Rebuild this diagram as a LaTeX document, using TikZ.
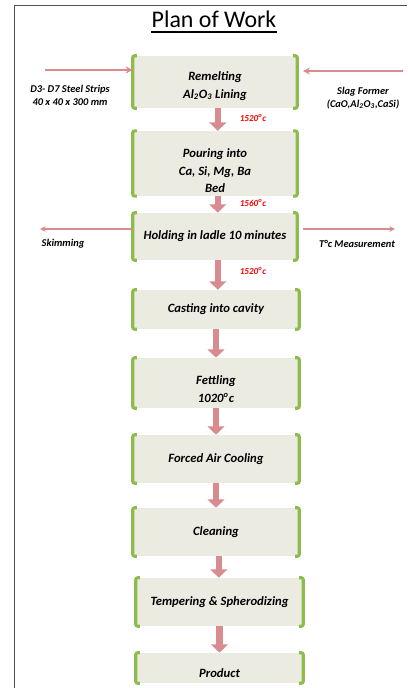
\documentclass[tikz,border=0pt]{standalone}
\usepackage{fontspec}
\setmainfont{Carlito}
\newfontfamily\boldslant{Carlito Bold Italic}
\usepackage{tikz}
\usetikzlibrary{arrows.meta, positioning}

\definecolor{boxfill}{RGB}{236,235,225}
\definecolor{bracketgreen}{RGB}{141,187,76}
\definecolor{flowpink}{RGB}{217,140,143}
\definecolor{framegray}{RGB}{80,80,80}

\begin{document}
\begin{tikzpicture}[
    stepbox/.style={rectangle, fill=boxfill, minimum width=4.1cm, inner sep=2pt, align=center, font=\boldslant\fontsize{9}{12.6}\selectfont},
    sidelabel/.style={align=center, inner sep=1pt, font=\boldslant\fontsize{7.4}{9.4}\selectfont},
    templabel/.style={text=red, inner sep=1pt, font=\boldslant\fontsize{6.5}{8}\selectfont},
    flow/.style={draw=flowpink, line width=4.6pt, -{Triangle[width=12pt, length=6pt]}},
    feed/.style={draw=flowpink, line width=1.6pt, -{Stealth[width=5pt, length=5pt]}},
    drain/.style={draw=flowpink, line width=1.1pt, -{Stealth[width=4pt, length=4pt]}},
    bracket/.style={draw=bracketgreen, line width=2.2pt, rounded corners=1.5pt}
]
\useasboundingbox (0,0) rectangle (10.175,17.2);
\draw[framegray, line width=1pt] (0.3625,0) -- (0.3625,17.0625) -- (10.175,17.0625);

% title
\node[font=\fontsize{17}{20}\selectfont, anchor=base, inner sep=0pt] (title) at (5.35,16.51) {Plan of Work};
\draw[line width=1pt] ([yshift=-3pt]title.base west) -- ([yshift=-3pt]title.base east);

% process steps
\node[stepbox, minimum height=1.3cm, text height=25pt] (remelt) at (5.375,15.15) {Remelting\\Al\textsubscript{2}O\textsubscript{3} Lining};
\node[stepbox, minimum height=1.575cm, text height=42pt] (pour) at (5.375,13.1125) {Pouring into\\Ca, Si, Mg, Ba\\Bed};
\node[stepbox, minimum height=1.175cm] (hold) at (5.375,11.2875) {Holding in ladle 10 minutes};
\node[stepbox, minimum height=0.975cm, minimum width=4.15cm] (cast) at (5.4,9.4625) {Casting into cavity};
\node[stepbox, minimum height=1.25cm, minimum width=4.15cm, text height=28pt] (fettle) at (5.4,7.625) {Fettling\\1020\textsuperscript{o}c};
\node[stepbox, minimum height=1.2cm, minimum width=4.15cm] (cool) at (5.4,5.725) {Forced Air Cooling};
\node[stepbox, minimum height=1.2cm, minimum width=4.15cm] (clean) at (5.4,3.9) {Cleaning};
\node[stepbox, minimum height=1.2cm, minimum width=4.175cm] (temper) at (5.4875,2.15) {Tempering \& Spherodizing};
\node[stepbox, minimum height=0.75cm, minimum width=4.175cm, text height=13pt] (product) at (5.4875,0.5) {Product};

\foreach \n in {remelt,pour,hold,cast,fettle,cool,clean,temper,product} {
  \draw[bracket] ([xshift=3pt]\n.north west) -- (\n.north west) -- (\n.south west) -- ([xshift=3pt]\n.south west);
  \draw[bracket] ([xshift=-3pt]\n.north east) -- (\n.north east) -- (\n.south east) -- ([xshift=-3pt]\n.south east);
}

% side labels
\node[sidelabel] (strips) at (1.75,14.825) {D3- D7 Steel Strips\\40 x 40 x 300 mm};
\node[sidelabel] (slag) at (9.075,14.75) {Slag Former\\(CaO,Al\textsubscript{2}O\textsubscript{3},CaSi)};
\node[sidelabel] (skim) at (1.575,11.1125) {Skimming};
\node[sidelabel] (meas) at (8.925,11.1125) {T°c Measurement};

% temperatures
\node[templabel] (temp1) at (6.325,14.25) {1520\textsuperscript{o}c};
\node[templabel] (temp2) at (6.325,12.125) {1560\textsuperscript{o}c};
\node[templabel] (temp3) at (6.325,10.425) {1520\textsuperscript{o}c};

% feeds
\coordinate (stripsin) at (1.125,15.45);
\coordinate (slagin) at (10.075,15.425);
\coordinate (skimout) at (1.0,11.475);
\coordinate (measout) at (9.875,11.475);
\draw[feed] (stripsin) -- (stripsin -| remelt.west);
\draw[feed] (slagin) -- ([xshift=4pt]slagin -| remelt.east);
\draw[drain] (hold.west |- skimout) -- (skimout);
\draw[drain] ([xshift=4pt]hold.east |- measout) -- (measout);

% flow
\draw[flow] ([xshift=2pt]remelt.south) -- ([xshift=2pt]remelt.south |- pour.north);
\draw[flow] ([xshift=2pt]pour.south) -- ([xshift=2pt]pour.south |- hold.north);
\draw[flow] ([xshift=2pt]hold.south) -- ([xshift=2pt]hold.south |- cast.north);
\draw[flow] (cast) -- (fettle);
\draw[flow] (fettle) -- (cool);
\draw[flow] (cool) -- (clean);
\draw[flow] ([xshift=2pt]clean.south) -- ([xshift=2pt]clean.south |- temper.north);
\draw[flow] (temper) -- (product);
\end{tikzpicture}
\end{document}
